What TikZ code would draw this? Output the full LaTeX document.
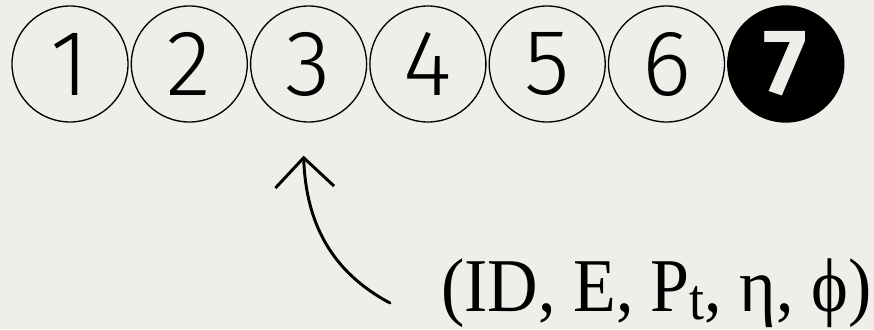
\documentclass[tikz,border=0pt]{standalone}
\usepackage{graphicx}
\usepackage{fontspec}
\setmainfont{Liberation Serif}
\newfontfamily\numfont{Fira Sans Light}
\newfontfamily\numboldfont{Fira Sans}
\usetikzlibrary{arrows.meta}
\definecolor{paper}{RGB}{239,238,232}
\tikzset{
  ball/.style={circle, draw, line width=1pt, minimum size=87pt, inner sep=0pt,
    font=\numfont\fontsize{70}{70}\selectfont},
  lastball/.style={ball, fill=black, text=paper,
    font=\numboldfont\bfseries\fontsize{70}{70}\selectfont}
}
\begin{document}
\begin{tikzpicture}[x=0.75pt, y=0.75pt]
    % Background
    \useasboundingbox (0,0) rectangle (874,329);
    \fill[paper] (0,0) rectangle (874,329);
    % Row of circles
    \foreach \i in {1,...,6}
        \node[ball] (c\i) at ({70+119.3*(\i-1)},265) {\i};
    \node[lastball] (c7) at ({70+119.3*6},265) {7};
    % Tuple
    \node[anchor=base west, inner sep=0pt, font=\fontsize{57}{57}\selectfont] (tuple) at (441,18)
        {\scalebox{0.92}[1]{(ID, E, P\raisebox{-6pt}{\fontsize{44}{44}\selectfont t}, η, ϕ)}};
    % Arrow to the third circle
    \coordinate (tail) at ([shift={(-51,8)}]tuple.base west);
    \coordinate (tip) at ([shift={(-5,-33)}]c3.south);
    \draw[-{Straight Barb[length=22pt, width=44pt]}, line width=2.2pt, line cap=round]
        (tail) to[out=152, in=-88] (tip);
\end{tikzpicture}
\end{document}
